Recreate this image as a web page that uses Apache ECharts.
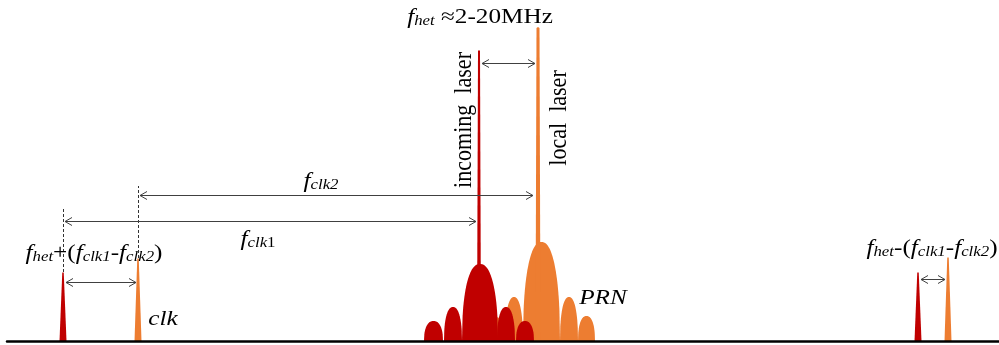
<!DOCTYPE html>
<html>
<head>
<meta charset="utf-8">
<script src="https://cdn.jsdelivr.net/npm/echarts@6/dist/echarts.min.js"></script>
<style>
html, body { margin: 0; padding: 0; background: #fff; }
#chart { width: 999px; height: 345px; }
</style>
</head>
<body>
<div id="chart"></div>
<script>
// spectrum lobes: [start freq, end freq, height]
var redLobes = [[424, 443, 20], [444, 462, 34], [462, 498, 77], [497, 515, 34], [516, 534, 20]];
var orangeLobes = [[486, 505, 24], [505, 523, 44], [523, 560, 99], [560, 578, 44], [578, 595, 25]];
// carrier lines: [freq, height]
var incomingLaser = [[479, 291]];
var localLaser = [[538, 314]];
// clock tones: [freq, height]
var clkRed = [[63, 69], [918, 69]];
var clkOrange = [[138, 83], [948, 84]];
// double arrows: [from, to, level]
var arrows = [[482, 535, 278], [140, 533, 146], [65, 476, 120], [66, 136, 59], [921, 945, 62]];
// dashed guides: [freq, from level, to level]
var guides = [[63, 69, 132], [138, 83, 155]];
// labels: [freq, level, text, vertical]
var labels = [
    [480, 327, '{i|f}{s|het}{n| ≈2-20MHz}', 0],
    [461, 221, '{n|incoming  laser}', 1],
    [556, 223, '{n|local  laser}', 1],
    [321, 163, '{i|f}{s|clk2}', 0],
    [258, 105, '{i|f}{s|clk}{u|1}', 0],
    [94, 91, '{i|f}{s|het}{n|+(}{i|f}{s|clk1}{n|-}{i|f}{s|clk2}{n|)}', 0],
    [932, 96, '{i|f}{s|het}{n|-(}{i|f}{s|clk1}{n|-}{i|f}{s|clk2}{n|)}', 0],
    [163, 25, '{i|clk}', 0],
    [603, 46, '{i|PRN}', 0]
];

var RED = '#c00000';
var ORANGE = '#ed7d31';
var INK = '#404040';
var TEXT = '#111';
var FONT = '"Liberation Serif", "Times New Roman", serif';

function lobeItem(color) {
    return function (params, api) {
        var x0 = api.value(0), x1 = api.value(1), h = api.value(2);
        var pts = [];
        for (var i = 0; i <= 60; i++) {
            var u = -1 + 2 * i / 60;
            var x = x0 + (x1 - x0) * (u + 1) / 2;
            var k = Math.max(0, 1 - Math.pow(Math.abs(u), 2.3));
            pts.push(api.coord([x, h * Math.pow(k, 1 / 2.3)]));
        }
        return { type: 'polygon', shape: { points: pts }, style: { fill: color } };
    };
}

function spikeItem(color, wb, wt) {
    return function (params, api) {
        var b = api.coord([api.value(0), 0]);
        var t = api.coord([api.value(0), api.value(1)]);
        return {
            type: 'polygon',
            shape: { points: [[b[0] - wb / 2, b[1]], [t[0] - wt / 2, t[1] + 1], [t[0], t[1]], [t[0] + wt / 2, t[1] + 1], [b[0] + wb / 2, b[1]]] },
            style: { fill: color }
        };
    };
}

function arrowItem(params, api) {
    var a = api.coord([api.value(0), api.value(2)]);
    var b = api.coord([api.value(1), api.value(2)]);
    var y = Math.round(a[1]) + 0.5;
    var st = { stroke: INK, lineWidth: 1, fill: null };
    return {
        type: 'group',
        children: [
            { type: 'line', shape: { x1: a[0], y1: y, x2: b[0], y2: y }, style: st },
            { type: 'polyline', shape: { points: [[a[0] + 7, y - 4], [a[0], y], [a[0] + 7, y + 4]] }, style: st },
            { type: 'polyline', shape: { points: [[b[0] - 7, y - 4], [b[0], y], [b[0] - 7, y + 4]] }, style: st }
        ]
    };
}

function guideItem(params, api) {
    var a = api.coord([api.value(0), api.value(1)]);
    var b = api.coord([api.value(0), api.value(2)]);
    var x = Math.round(a[0]) + 0.5;
    return {
        type: 'line',
        shape: { x1: x, y1: a[1], x2: x, y2: b[1] },
        style: { stroke: '#333', lineWidth: 1, lineDash: [3, 2] }
    };
}

var rich = {
    i: { fontFamily: FONT, fontStyle: 'italic', fontSize: 21, lineHeight: 28, verticalAlign: 'bottom', color: TEXT },
    n: { fontFamily: FONT, fontSize: 21, lineHeight: 28, verticalAlign: 'bottom', color: TEXT },
    s: { fontFamily: FONT, fontStyle: 'italic', fontSize: 14, lineHeight: 14, verticalAlign: 'bottom', color: TEXT },
    u: { fontFamily: FONT, fontSize: 14, lineHeight: 14, verticalAlign: 'bottom', color: TEXT }
};

function labelItem(params, api) {
    var d = labels[params.dataIndex];
    var p = api.coord([d[0], d[1]]);
    var vert = d[3] === 1;
    return {
        type: 'text',
        x: p[0], y: p[1],
        rotation: vert ? Math.PI / 2 : 0,
        scaleX: vert ? 1.05 : 1.2,
        scaleY: vert ? 1.15 : 1,
        style: { text: d[2], rich: rich, align: 'center', verticalAlign: 'middle' }
    };
}

var chart = echarts.init(document.getElementById('chart'));
var option = {
    animation: false,
    grid: { left: 7, right: 0, top: 0, bottom: 4 },
    xAxis: {
        type: 'value', min: 7, max: 999, z: 10,
        axisLine: { show: true, lineStyle: { color: '#000', width: 2.5 } },
        axisTick: { show: false }, axisLabel: { show: false }, splitLine: { show: false }
    },
    yAxis: { type: 'value', min: 0, max: 341, show: false },
    series: [
        { type: 'custom', data: orangeLobes, renderItem: lobeItem(ORANGE) },
        { type: 'custom', data: localLaser, renderItem: spikeItem(ORANGE, 5, 3) },
        { type: 'custom', data: redLobes, renderItem: lobeItem(RED) },
        { type: 'custom', data: incomingLaser, renderItem: spikeItem(RED, 4, 2) },
        { type: 'custom', data: clkRed, renderItem: spikeItem(RED, 7, 1.5) },
        { type: 'custom', data: clkOrange, renderItem: spikeItem(ORANGE, 7, 1.5) },
        { type: 'custom', data: guides, renderItem: guideItem },
        { type: 'custom', data: arrows, renderItem: arrowItem },
        { type: 'custom', data: labels.map(function (d) { return [d[0], d[1]]; }), renderItem: labelItem }
    ]
};
chart.setOption(option);
</script>
</body>
</html>
